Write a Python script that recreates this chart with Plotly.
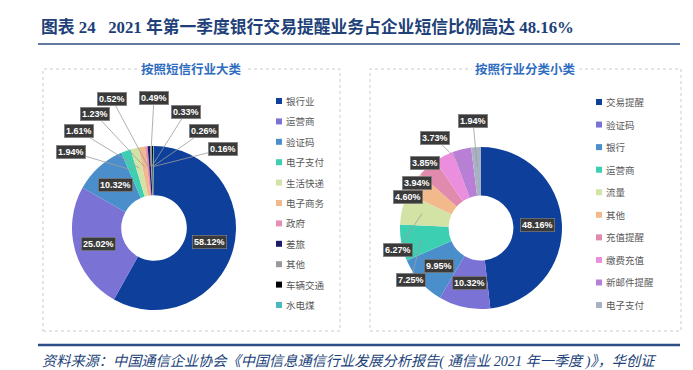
import math
import plotly.graph_objects as go

W, H = 693, 370

# ---------------- data ----------------
title_text = "图表 24   2021 年第一季度银行交易提醒业务占企业短信比例高达 48.16%"
source_text = "资料来源：中国通信企业协会《中国信息通信行业发展分析报告( 通信业 2021 年一季度 )》，华创证"

left_title = "按照短信行业大类"
left_labels = ["银行业", "运营商", "验证码", "电子支付", "生活快递", "电子商务",
               "政府", "差旅", "其他", "车辆交通", "水电煤"]
left_values = [58.12, 25.02, 10.32, 1.94, 1.61, 1.23, 0.52, 0.49, 0.33, 0.26, 0.16]

right_title = "按照行业分类小类"
right_labels = ["交易提醒", "验证码", "银行", "运营商", "流量", "其他",
                "充值提醒", "缴费充值", "新邮件提醒", "电子支付"]
right_values = [48.16, 10.32, 9.95, 7.25, 6.27, 4.60, 3.94, 3.85, 3.73, 1.94]

# ---------------- style ----------------
left_colors = ["#0d3f9b", "#7b72d6", "#4a8fcb", "#3ccfb2", "#d3e3a5", "#f2b98c",
               "#e68fb4", "#1c1a6b", "#999999", "#000000", "#4bb7c0"]
right_colors = ["#0d3f9b", "#7b72d6", "#4a8fcb", "#3ccfb2", "#d3e3a5", "#f2b98c",
                "#e08aae", "#ec8ede", "#b97ed6", "#a9b2c3"]

# pie geometry (pixels): centre x, centre y, radius
LEFT_GEOM = (146, 220, 82)
RIGHT_GEOM = (473, 220, 81)
HOLE = 0.40

# label placement per slice: None -> inside the ring, else (x, y, leader?)
left_place = [None, None, None,
              (63, 144, True), (71, 123, True), (87, 106, True), (104, 91, True),
              (146, 90, True), (178, 104, True), (196, 123, True), (215, 141, True)]
right_place = [None, None, None,
               (403, 272, True), (390, 242, True), (400, 189, False), (409, 175, False),
               (417, 155, False), (427, 130, True), (465, 113, True)]

BLUE_DARK = "#213f78"
CJK = "Noto Sans CJK SC"
LABEL_FONT = dict(size=9, color="white", family="Liberation Sans", weight="bold")


def px(x):
    return x / W


def py(y):
    return 1 - y / H


def domain(cx, cy, r):
    return dict(x=[px(cx - r), px(cx + r)], y=[py(cy + r), py(cy - r)])


def polar(cx, cy, r, frac):
    th = 2 * math.pi * frac
    return cx + r * math.sin(th), cy - r * math.cos(th)


fig = go.Figure()
annotations = []
shapes = []


def add_donut(labels, values, colors, geom, place, title, box, legend_x, legend_y0, legend_step):
    cx, cy, R = geom
    fig.add_trace(go.Pie(
        labels=labels, values=values, sort=False, direction="clockwise", rotation=0,
        hole=HOLE, marker=dict(colors=colors, line=dict(width=0)),
        textinfo="none", hoverinfo="label+percent", domain=domain(cx, cy, R),
        showlegend=False,
    ))
    total = sum(values)
    cum = 0.0
    for i, v in enumerate(values):
        mid = (cum + v / 2) / total
        cum += v
        txt = f"{v:.2f}%"
        p = place[i]
        if p is None:
            lx, ly = polar(cx, cy, R * 0.70, mid)
            leader = False
        else:
            lx, ly, leader = p
        if leader:
            ex, ey = polar(cx, cy, R * 0.75, mid)
            annotations.append(dict(
                x=px(ex), y=py(ey), xref="paper", yref="paper", text=txt,
                showarrow=True, arrowhead=0, arrowwidth=0.8, arrowcolor="#9c9c9c",
                ax=lx - ex, ay=ly - ey, standoff=0,
                bgcolor="#3a3a3a", bordercolor="#8a8a8a", borderwidth=0.6, borderpad=1.5,
                font=LABEL_FONT))
        else:
            annotations.append(dict(
                x=px(lx), y=py(ly), xref="paper", yref="paper", text=txt,
                showarrow=False, bgcolor="#3a3a3a", bordercolor="#8a8a8a",
                borderwidth=0.6, borderpad=1.5, font=LABEL_FONT,
                xanchor="center", yanchor="middle"))

    # panel box and title
    x0, y0, x1, y1 = box
    shapes.append(dict(type="rect", xref="paper", yref="paper",
                       x0=px(x0), x1=px(x1), y0=py(y1), y1=py(y0),
                       line=dict(color="#c6cad4", width=1, dash="dot"), layer="below"))
    annotations.append(dict(
        x=px((x0 + x1) / 2), y=py(y0), xref="paper", yref="paper", text=title,
        showarrow=False, bgcolor="white", borderpad=3,
        font=dict(size=12.5, color="#2e6cc0", family=CJK, weight="bold"),
        xanchor="center", yanchor="middle"))

    # legend
    for i, (lab, col) in enumerate(zip(labels, colors)):
        yy = legend_y0 + i * legend_step
        shapes.append(dict(type="rect", xref="paper", yref="paper",
                           x0=px(legend_x - 3), x1=px(legend_x + 3),
                           y0=py(yy + 3), y1=py(yy - 3),
                           fillcolor=col, line=dict(width=0)))
        annotations.append(dict(
            x=px(legend_x + 5), y=py(yy), xref="paper", yref="paper", text=lab,
            showarrow=False, xanchor="left", yanchor="middle",
            font=dict(size=9.5, color="#595959", family=CJK)))


add_donut(left_labels, left_values, left_colors, LEFT_GEOM, left_place, left_title,
          (35, 61, 332, 323), 271, 93, 20.4)
add_donut(right_labels, right_values, right_colors, RIGHT_GEOM, right_place, right_title,
          (362, 61, 673, 323), 591, 94, 22.56)

# header / footer
annotations.append(dict(
    x=px(31), y=py(19), xref="paper", yref="paper", text=title_text, showarrow=False,
    xanchor="left", yanchor="middle",
    font=dict(size=16.8, color=BLUE_DARK, family="Liberation Serif, " + CJK, weight="bold")))
annotations.append(dict(
    x=px(32), y=py(353), xref="paper", yref="paper", text=source_text, showarrow=False,
    xanchor="left", yanchor="middle",
    font=dict(size=14.2, color=BLUE_DARK, family="Liberation Serif, " + CJK, style="italic")))
shapes.append(dict(type="line", xref="paper", yref="paper", x0=px(30), x1=px(672),
                   y0=py(36), y1=py(36), line=dict(color="#2d4e86", width=1.5)))
shapes.append(dict(type="line", xref="paper", yref="paper", x0=px(30), x1=px(672),
                   y0=py(337), y1=py(337), line=dict(color="#2d4e86", width=2.5)))

fig.update_layout(
    width=W, height=H, margin=dict(l=0, r=0, t=0, b=0),
    paper_bgcolor="white", plot_bgcolor="white", showlegend=False,
    annotations=annotations, shapes=shapes,
)

fig.write_html("out.html")
